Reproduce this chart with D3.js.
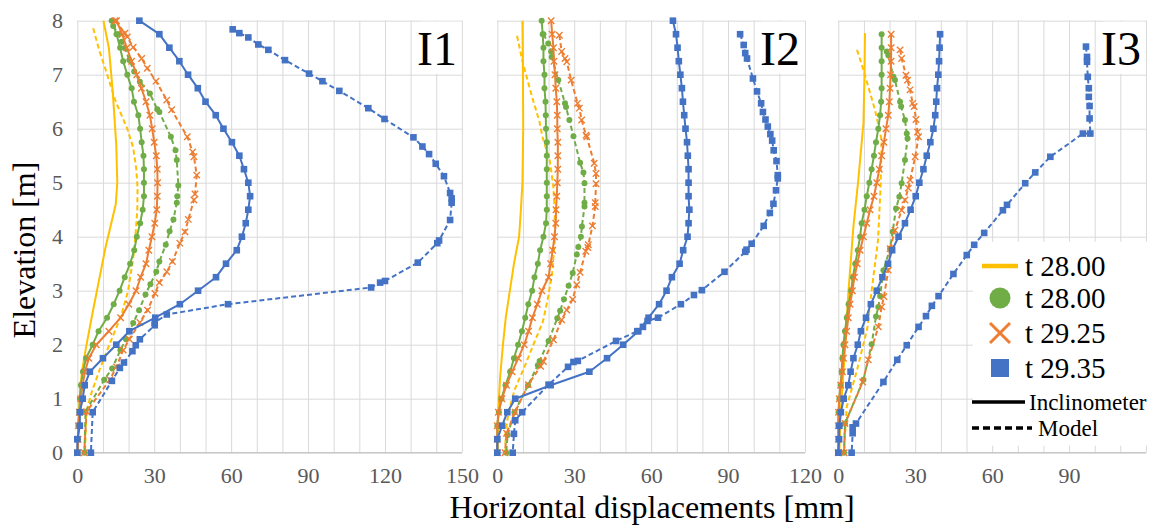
<!DOCTYPE html>
<html>
<head>
<meta charset="utf-8">
<script src="https://cdn.jsdelivr.net/npm/d3@7"></script>
<style>
  body { margin: 0; background: #fff; }
  svg text { font-family: "Liberation Serif", Tinos, "Times New Roman", Times, "DejaVu Serif", serif !important; }
</style>
</head>
<body>
<svg id="chart" width="1154" height="527"></svg>
<script>
// elevations of the inclinometer readings [m]
let elevI12 = [8, 7.75, 7.5, 7.25, 7, 6.75, 6.5, 6.25, 6, 5.75, 5.5, 5.25, 5, 4.75, 4.5, 4.25, 4, 3.75, 3.5, 3.25, 3, 2.75, 2.5, 2.25, 2, 1.75, 1.5, 1.25, 1, 0.75, 0.5, 0.25, 0];
let elevI3 = [7.75, 7.5, 7.25, 7, 6.75, 6.5, 6.25, 6, 5.75, 5.5, 5.25, 5, 4.75, 4.5, 4.25, 4, 3.75, 3.5, 3.25, 3, 2.75, 2.5, 2.25, 2, 1.75, 1.5, 1.25, 1, 0.75, 0.5, 0.25, 0];

// ---- I1 ----
let i1YellowIncl = [[10.2, 8], [12.3, 7.5], [13.8, 6.7], [15.2, 5.7], [15.6, 5], [15, 4.6], [13, 4.2], [11, 3.8], [8.5, 3.2], [6, 2.6], [3.4, 1.95], [1.8, 1.5], [0.9, 1.0], [0.4, 0.5], [0.3, 0]];
let i1YellowModel = [[6.2, 7.86], [8.5, 7.46], [11, 7.1], [15, 6.5], [19.5, 6.0], [21.8, 5.65], [23, 5.25], [23.5, 4.9], [23.4, 4.5], [22.8, 4.1], [21.8, 3.6], [19.8, 3.0], [17.5, 2.6], [15.5, 2.35], [12.5, 2.0], [8.8, 1.55], [5.6, 1.12], [3.5, 0.75], [3, 0]];
let i1GreenIncl = [13.4, 15.3, 16.7, 17.9, 19.5, 21.2, 22.1, 23.8, 24.5, 25.1, 25.8, 26, 26, 26, 25.5, 24.5, 23.2, 22.2, 20.6, 18.5, 16.5, 14.2, 11.6, 8.3, 6, 3.4, 2.2, 1.4, 1, 0.8, 0.4, 0.3, 0.1];
let i1GreenModel = [[14, 7.9], [16, 7.75], [17.3, 7.61], [18.6, 7.49], [20.3, 7.27], [22.2, 7.06], [24.4, 6.87], [28.3, 6.65], [31.2, 6.36], [32, 6.31], [36.5, 5.85], [38.3, 5.6], [38.8, 5.42], [39.4, 4.95], [39, 4.75], [38.8, 4.63], [37.5, 4.32], [36, 4.1], [34.5, 3.85], [32, 3.54], [30.8, 3.35], [28.5, 3.12], [26.6, 2.93], [24.1, 2.64], [21.8, 2.40], [19, 2.1], [16.8, 1.9], [13.6, 1.56], [10.5, 1.35], [3.2, 0.76], [2.8, 0]];
let i1OrangeIncl = [15.3, 17.5, 19.3, 21.2, 23.2, 25, 26.8, 28.3, 29.2, 30, 30.8, 31.2, 31.3, 31.2, 31, 30.2, 29.1, 27.9, 26.8, 24.7, 22.9, 20.1, 16.9, 12.3, 7.4, 4.5, 3, 2.1, 1.3, 0.8, 0.4, 0.3, 0.1];
let i1OrangeModel = [[14.7, 8], [18.6, 7.77], [19.5, 7.70], [21.8, 7.51], [25.1, 7.30], [27.3, 7.12], [30.7, 6.88], [34.9, 6.53], [36.8, 6.35], [42.9, 5.85], [45, 5.57], [45.5, 5.48], [46.6, 5.14], [45.9, 4.79], [45.5, 4.68], [43.3, 4.32], [42, 4.09], [40, 3.88], [37.1, 3.54], [34.9, 3.35], [32, 3.15], [30.3, 2.95], [27.4, 2.64], [24.4, 2.41], [20.3, 2.10], [17.9, 1.90], [15.3, 1.59], [12.7, 1.35], [3.6, 0.76], [2.7, 0]];
let i1BlueIncl = [24.2, 32, 35.9, 39.8, 43.2, 47, 50, 54, 57, 60.3, 63.2, 65, 66.7, 67.4, 66.7, 65.7, 64.2, 62.2, 58, 54.1, 47.1, 40, 30.4, 20.3, 15.2, 10, 4.9, 2.9, 2.1, 1, 1, 0, 0];
let i1BlueModel = [[60.6, 7.84], [63.2, 7.77], [66.7, 7.69], [70.6, 7.56], [74.5, 7.46], [81, 7.27], [90.4, 7.02], [95.6, 6.88], [102.2, 6.70], [113.5, 6.38], [119.8, 6.18], [131.1, 5.84], [134.6, 5.67], [137.2, 5.53], [139.8, 5.35], [143, 5.12], [145.4, 4.81], [146, 4.71], [146, 4.63], [145.4, 4.31], [141.1, 3.93], [140.4, 3.88], [132.8, 3.52], [120, 3.18], [118.1, 3.15], [114.6, 3.06], [58.8, 2.75], [34.9, 2.56], [30.2, 2.41], [30.2, 2.36], [24.4, 2.10], [22.8, 1.99], [21.5, 1.88], [18.2, 1.67], [16.6, 1.57], [13.5, 1.33], [6, 0.75], [5.3, 0]];

// ---- I2 ----
let i2YellowIncl = [[9.8, 8], [10, 7], [10.1, 6], [9.8, 5], [9.2, 4.5], [8.5, 4], [6.5, 3.5], [4.9, 3], [3.3, 2.5], [2.2, 2], [1.1, 1.4], [0.4, 0.8], [0.1, 0]];
let i2YellowModel = [[7.7, 7.72], [9.8, 7.25], [13.5, 6.6], [16.5, 6.12], [17.6, 5.85], [20.5, 5.4], [21.8, 4.95], [22.4, 4.5], [22.4, 3.92], [21.4, 3.32], [19.7, 2.85], [17.8, 2.43], [14.5, 2.05], [10.6, 1.59], [6.7, 1.16], [4.4, 0.75], [3.2, 0.36], [3.2, 0]];
let i2GreenIncl = [17.3, 17.7, 18, 18, 18.4, 18.4, 18.8, 18.9, 19, 19.3, 19.3, 19.3, 19.3, 19.3, 19.3, 19, 18, 16.7, 15.8, 14.5, 13.6, 12.1, 10.9, 9.6, 8.1, 6.5, 5, 3.2, 1.6, 0.6, 0, 0, 0];
let i2GreenModel = [[18, 7.75], [19.9, 7.58], [21, 7.43], [21.2, 7.33], [23.8, 6.90], [26.4, 6.47], [26.8, 6.40], [28.1, 6.16], [29.7, 5.86], [32.3, 5.37], [33.6, 5.19], [34, 4.99], [34, 4.63], [34, 4.56], [33, 4.19], [32.6, 4.0], [31.6, 3.81], [31, 3.67], [29.4, 3.33], [27.8, 3.09], [26, 2.84], [24.5, 2.63], [23.4, 2.49], [20, 2.07], [16.5, 1.70], [15.8, 1.62], [12, 1.25], [6.7, 0.75], [4, 0.33], [3.5, 0]];
let i2OrangeIncl = [21, 21.4, 21.9, 22.1, 22.5, 22.8, 23.2, 23.4, 23.4, 23.6, 23.6, 23.6, 23.4, 23.2, 22.9, 22.8, 22.3, 21.6, 20.8, 20, 17.4, 15.6, 13.7, 12.2, 10.5, 8.2, 5.8, 3.6, 1.8, 0.4, 0, 0, 0];
let i2OrangeModel = [[24.2, 7.73], [25.1, 7.43], [26.4, 7.3], [27.1, 7.24], [28.8, 6.90], [31.3, 6.47], [32, 6.38], [32.9, 6.16], [34.6, 5.88], [34.9, 5.85], [37.8, 5.36], [38.5, 5.17], [38.5, 4.98], [38.2, 4.63], [38.2, 4.56], [37.1, 4.20], [35.5, 3.85], [35.3, 3.80], [34.5, 3.73], [32.3, 3.34], [31, 3.11], [29.4, 2.84], [27.1, 2.64], [25.1, 2.46], [21.9, 2.09], [18, 1.69], [16.9, 1.60], [12.1, 1.26], [6.9, 0.75], [3.6, 0.36], [3, 0]];
let i2BlueIncl = [68.5, 69.7, 70.3, 70.8, 71.4, 72, 72.4, 72.9, 73.4, 74, 74.3, 74.6, 74.6, 74.6, 74.9, 74.6, 74.2, 72.5, 71.1, 68.1, 66, 63.1, 59, 55, 49.1, 42.8, 35.9, 20.8, 7, 3.9, 1.9, 0, 0];
let i2BlueModel = [[94.7, 7.75], [96.1, 7.55], [96.7, 7.40], [97.4, 7.30], [99.7, 6.93], [101.3, 6.69], [102.9, 6.47], [103.6, 6.31], [104.6, 6.17], [105.5, 6.04], [106.5, 5.90], [107.2, 5.78], [107.8, 5.60], [108.9, 5.4], [109.4, 5.14], [109.4, 5.08], [108.7, 4.86], [107.7, 4.61], [106.3, 4.44], [103.9, 4.20], [99.2, 3.87], [97.2, 3.76], [96.7, 3.72], [88.6, 3.35], [79.8, 3.01], [76.7, 2.92], [71.6, 2.75], [62.7, 2.5], [58.6, 2.44], [56.8, 2.33], [54.6, 2.25], [46.3, 2.07], [31.4, 1.70], [29.7, 1.68], [27.6, 1.59], [20, 1.26], [9.7, 0.75], [7, 0.60], [6.5, 0.35], [6, 0]];

// ---- I3 ----
let i3YellowIncl = [[10.4, 7.77], [10.2, 6.96], [9.8, 6.1], [7.8, 5.05], [5.9, 4.19], [3.9, 2.95], [2.6, 1.9], [0.9, 0.73], [0.4, 0]];
let i3YellowModel = [[7.3, 7.46], [9.8, 7.09], [14.3, 6.35], [16.9, 5.79], [16.5, 4.93], [15.5, 3.94], [13, 3.0], [11.3, 2.3], [7.4, 1.55], [3.3, 0.85], [2.2, 0]];
let i3GreenIncl = [16.9, 16.9, 16.9, 16.9, 16.9, 16.7, 16.3, 15.6, 14.7, 13.9, 13, 12.1, 11.1, 10.2, 9.1, 8.5, 7.6, 6.6, 5.7, 5.0, 4.0, 3.3, 2.6, 2, 1.6, 1.3, 0.9, 0.4, 0.1, 0, 0, 0];
let i3GreenModel = [[18.9, 7.43], [19.5, 7.36], [21.5, 6.96], [22.1, 6.9], [24.1, 6.5], [24.5, 6.41], [26, 6.16], [26.7, 5.91], [27, 5.82], [26, 5.42], [24.7, 4.99], [23.8, 4.74], [22.5, 4.52], [21.2, 4.09], [20.2, 3.78], [17.6, 3.38], [16.3, 2.90], [15.6, 2.70], [14.7, 2.52], [13, 2.01], [9.8, 1.35], [2.6, 0.54], [2.2, 0]];
let i3OrangeIncl = [20.6, 20.6, 20.6, 20.4, 20.2, 19.9, 19.5, 18.6, 17.8, 16.9, 16, 15, 13.9, 12.4, 11.1, 9.8, 8.5, 7.4, 6.3, 5.5, 4.6, 3.9, 3.3, 2.6, 2, 1.6, 0.9, 0.4, 0.1, 0, 0, 0];
let i3OrangeModel = [[24.1, 7.46], [24.7, 7.30], [26.4, 6.99], [27, 6.9], [28, 6.72], [29, 6.47], [29.6, 6.41], [30.3, 6.17], [30.9, 5.94], [31.3, 5.85], [30, 5.48], [28, 5.05], [27.3, 4.90], [26, 4.68], [24.7, 4.49], [22.1, 4.12], [20.2, 3.78], [19.5, 3.38], [17.8, 2.89], [16.9, 2.70], [15.6, 2.33], [11.7, 1.72], [9.5, 1.31], [2.6, 0.54], [2.3, 0]];
let i3BlueIncl = [39.7, 39.5, 39.3, 39, 38.5, 38.2, 37.8, 37.1, 35.9, 34.5, 33.2, 31.6, 30.2, 28.2, 26, 23.5, 21, 19.4, 17.2, 15, 12.7, 10.8, 8.8, 7.6, 5.9, 4.8, 3.9, 2.1, 1, 0.4, 0.3, 0];
let i3BlueModel = [[96.6, 7.52], [97, 7.33], [97, 7.24], [97.3, 6.96], [97.7, 6.75], [97.7, 6.59], [98, 6.42], [98, 6.19], [98.3, 5.91], [95.4, 5.91], [82.7, 5.48], [76.8, 5.19], [72.9, 4.99], [65.8, 4.59], [64.2, 4.49], [56.9, 4.07], [53, 3.85], [50.1, 3.66], [44.9, 3.31], [39.1, 2.90], [36.5, 2.72], [34.2, 2.53], [31.3, 2.33], [26.7, 1.99], [23, 1.72], [17.6, 1.31], [6.9, 0.54], [5.6, 0.47], [5.6, 0.36], [5.2, 0]];

// axes
let panelNames = ["I1", "I2", "I3"];
let panelMax = [150, 120, 120];
let xTicksI1 = [0, 30, 60, 90, 120, 150];
let xTicksI2 = [0, 30, 60, 90, 120];
let xTicksI3 = [0, 30, 60, 90];
let yTicks = [0, 1, 2, 3, 4, 5, 6, 7, 8];
let legendLabels = ["t 28.00", "t 28.00", "t 29.25", "t 29.35"];

let colors = {yellow: "#FFC000", green: "#70AD47", orange: "#ED7D31", blue: "#4472C4"};
let serif = "'Liberation Serif', Tinos, 'Times New Roman', Times, 'DejaVu Serif', serif";

let svg = d3.select("#chart");
let pxPerMm = 2.564;
let panelLeft = [77.3, 497.3, 838.3];
let plotTop = 20.7, plotBottom = 452.7;

let y = d3.scaleLinear().domain([0, 8]).range([plotBottom, plotTop]);

function withElev(vals, elev) {
    return d3.zip(vals, elev);
}

let panels = [
    {ticks: xTicksI1, series: [
        ["yellow", i1YellowIncl, false], ["yellow", i1YellowModel, true],
        ["green", withElev(i1GreenIncl, elevI12), false], ["green", i1GreenModel, true],
        ["orange", withElev(i1OrangeIncl, elevI12), false], ["orange", i1OrangeModel, true],
        ["blue", withElev(i1BlueIncl, elevI12), false], ["blue", i1BlueModel, true]]},
    {ticks: xTicksI2, series: [
        ["yellow", i2YellowIncl, false], ["yellow", i2YellowModel, true],
        ["green", withElev(i2GreenIncl, elevI12), false], ["green", i2GreenModel, true],
        ["orange", withElev(i2OrangeIncl, elevI12), false], ["orange", i2OrangeModel, true],
        ["blue", withElev(i2BlueIncl, elevI12), false], ["blue", i2BlueModel, true]]},
    {ticks: xTicksI3, series: [
        ["yellow", i3YellowIncl, false], ["yellow", i3YellowModel, true],
        ["green", withElev(i3GreenIncl, elevI3), false], ["green", i3GreenModel, true],
        ["orange", withElev(i3OrangeIncl, elevI3), false], ["orange", i3OrangeModel, true],
        ["blue", withElev(i3BlueIncl, elevI3), false], ["blue", i3BlueModel, true]]}
];

function drawMarkers(g, data, name, x) {
    if (name === "green") {
        g.selectAll(null).data(data).enter().append("circle")
            .attr("cx", d => x(d[0])).attr("cy", d => y(d[1])).attr("r", 3)
            .attr("fill", colors.green);
    } else if (name === "orange") {
        g.selectAll(null).data(data).enter().append("path")
            .attr("d", d => {
                let cx = x(d[0]), cy = y(d[1]), s = 3.2;
                return "M" + (cx - s) + "," + (cy - s) + "L" + (cx + s) + "," + (cy + s) +
                    "M" + (cx - s) + "," + (cy + s) + "L" + (cx + s) + "," + (cy - s);
            })
            .attr("stroke", colors.orange).attr("stroke-width", 1.4).attr("fill", "none");
    } else if (name === "blue") {
        g.selectAll(null).data(data).enter().append("rect")
            .attr("x", d => x(d[0]) - 3.3).attr("y", d => y(d[1]) - 3.3)
            .attr("width", 6.6).attr("height", 6.6)
            .attr("fill", colors.blue);
    }
}

panels.forEach(function (p, i) {
    let left = panelLeft[i];
    let x = d3.scaleLinear().domain([0, panelMax[i]]).range([left, left + panelMax[i] * pxPerMm]);
    let g = svg.append("g");

    // grid
    g.append("g").attr("transform", "translate(0," + plotBottom + ")")
        .call(d3.axisBottom(x).tickValues(d3.range(0, panelMax[i] + 1, 10)).tickSize(-(plotBottom - plotTop)).tickFormat(""))
        .call(a => a.select(".domain").remove())
        .call(a => a.selectAll("line").attr("stroke", "#D9D9D9").attr("stroke-width", 1));
    g.append("g").attr("transform", "translate(" + left + ",0)")
        .call(d3.axisLeft(y).tickValues(yTicks).tickSize(-(panelMax[i] * pxPerMm)).tickFormat(""))
        .call(a => a.select(".domain").remove())
        .call(a => a.selectAll("line").attr("stroke", "#D9D9D9").attr("stroke-width", 1));
    g.append("line").attr("x1", left).attr("x2", x(panelMax[i]))
        .attr("y1", plotBottom).attr("y2", plotBottom).attr("stroke", "#BFBFBF").attr("stroke-width", 1);

    // x tick labels
    g.append("g").attr("transform", "translate(0," + plotBottom + ")")
        .call(d3.axisBottom(x).tickValues(p.ticks).tickSize(0).tickPadding(0))
        .attr("font-family", serif)
        .call(a => a.select(".domain").remove())
        .call(a => a.selectAll("text").attr("dy", null).attr("y", 30)
            .attr("font-size", 22).attr("fill", "#595959"));

    // white box behind the panel name
    let boxStart = i === 0 ? 134 : 103;
    g.append("rect").attr("x", x(boxStart)).attr("y", y(8) + 1)
        .attr("width", x(panelMax[i]) - x(boxStart) - 1).attr("height", y(7) - y(8) - 2)
        .attr("fill", "#fff");

    if (i === 2) {
        g.append("rect").attr("x", x(52.5)).attr("y", y(4) + 5)
            .attr("width", 1154 - x(52.5)).attr("height", y(0) - y(4) - 12)
            .attr("fill", "#fff");
    }

    let line = d3.line().x(d => x(d[0])).y(d => y(d[1]));
    p.series.forEach(function (s) {
        let name = s[0], data = s[1], dashed = s[2];
        g.append("path").datum(data).attr("d", line)
            .attr("fill", "none").attr("stroke", colors[name]).attr("stroke-width", 2)
            .attr("stroke-dasharray", dashed ? "5,3" : null)
            .attr("stroke-linejoin", "round");
        drawMarkers(g, data, name, x);
    });

    g.append("text").attr("x", x(panelMax[i]) - 5).attr("y", 65)
        .attr("text-anchor", "end").attr("font-size", 48).attr("fill", "#000")
        .attr("font-family", serif)
        .text(panelNames[i]);
});

// y axis labels
svg.append("g").attr("transform", "translate(63,0)")
    .call(d3.axisLeft(y).tickValues(yTicks).tickSize(0).tickPadding(0))
    .attr("font-family", serif)
    .call(a => a.select(".domain").remove())
    .call(a => a.selectAll("text").attr("font-size", 22).attr("fill", "#595959"));

svg.append("text").attr("transform", "translate(35,250) rotate(-90)")
    .attr("text-anchor", "middle").attr("font-size", 32).attr("fill", "#000")
    .attr("font-family", serif)
    .text("Elevation [m]");

svg.append("text").attr("x", 652).attr("y", 518)
    .attr("text-anchor", "middle").attr("font-size", 32).attr("fill", "#000")
    .attr("font-family", serif)
    .text("Horizontal displacements [mm]");

// legend
let lg = svg.append("g").attr("font-family", serif);
let rowY = [266, 298, 333, 368];
lg.append("line").attr("x1", 982).attr("x2", 1018).attr("y1", rowY[0]).attr("y2", rowY[0])
    .attr("stroke", colors.yellow).attr("stroke-width", 4.5);
lg.append("circle").attr("cx", 1000).attr("cy", rowY[1]).attr("r", 10.5).attr("fill", colors.green);
lg.append("path").attr("d", "M990," + (rowY[2] - 10) + "L1010," + (rowY[2] + 10) + "M990," + (rowY[2] + 10) + "L1010," + (rowY[2] - 10))
    .attr("stroke", colors.orange).attr("stroke-width", 3).attr("fill", "none");
lg.append("rect").attr("x", 991).attr("y", rowY[3] - 9).attr("width", 18).attr("height", 18).attr("fill", colors.blue);
legendLabels.forEach(function (t, k) {
    lg.append("text").attr("x", 1025).attr("y", rowY[k] + 10).attr("font-size", 29).attr("fill", "#000").text(t);
});
lg.append("line").attr("x1", 972).attr("x2", 1025).attr("y1", 402).attr("y2", 402)
    .attr("stroke", "#000").attr("stroke-width", 3.5);
lg.append("text").attr("x", 1029).attr("y", 410).attr("font-size", 23).attr("fill", "#000").text("Inclinometer");
lg.append("line").attr("x1", 972).attr("x2", 1032).attr("y1", 428).attr("y2", 428)
    .attr("stroke", "#000").attr("stroke-width", 3.5).attr("stroke-dasharray", "7,4");
lg.append("text").attr("x", 1038).attr("y", 436).attr("font-size", 23).attr("fill", "#000").text("Model");
</script>
</body>
</html>
